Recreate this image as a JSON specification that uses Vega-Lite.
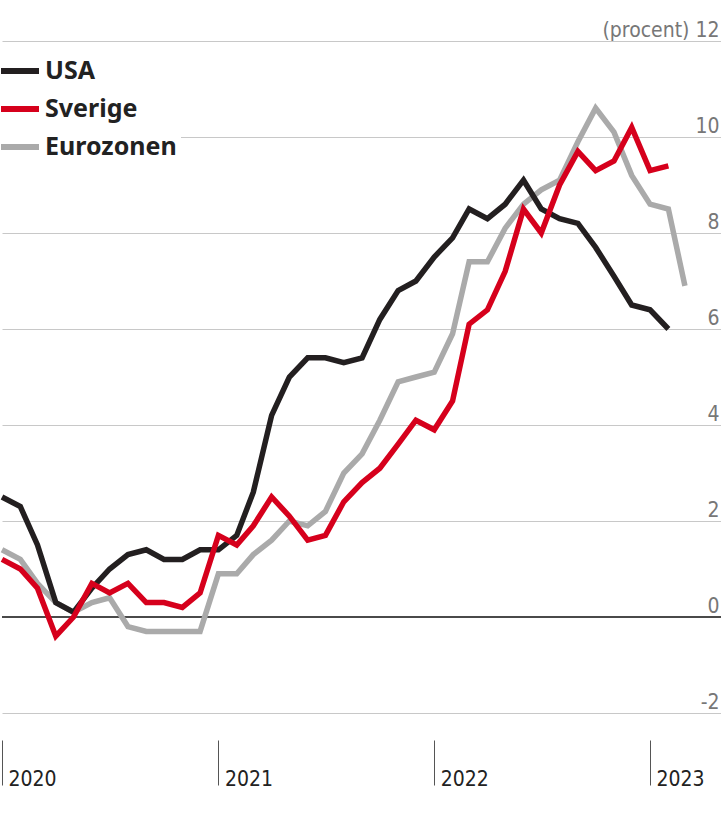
{
  "$schema": "https://vega.github.io/schema/vega-lite/v6.json",
  "width": 719,
  "height": 672,
  "autosize": {"type": "none"},
  "padding": {"left": 2, "top": 41, "right": 0, "bottom": 104},
  "background": "white",
  "config": {
    "view": {"stroke": null},
    "font": "DejaVu Sans Condensed, Liberation Sans, sans-serif"
  },
  "data": {
    "values": [
      {"country": "Eurozonen", "date": "2020-01-01", "value": 1.4},
      {"country": "Eurozonen", "date": "2020-02-01", "value": 1.2},
      {"country": "Eurozonen", "date": "2020-03-01", "value": 0.7},
      {"country": "Eurozonen", "date": "2020-04-01", "value": 0.3},
      {"country": "Eurozonen", "date": "2020-05-01", "value": 0.1},
      {"country": "Eurozonen", "date": "2020-06-01", "value": 0.3},
      {"country": "Eurozonen", "date": "2020-07-01", "value": 0.4},
      {"country": "Eurozonen", "date": "2020-08-01", "value": -0.2},
      {"country": "Eurozonen", "date": "2020-09-01", "value": -0.3},
      {"country": "Eurozonen", "date": "2020-10-01", "value": -0.3},
      {"country": "Eurozonen", "date": "2020-11-01", "value": -0.3},
      {"country": "Eurozonen", "date": "2020-12-01", "value": -0.3},
      {"country": "Eurozonen", "date": "2021-01-01", "value": 0.9},
      {"country": "Eurozonen", "date": "2021-02-01", "value": 0.9},
      {"country": "Eurozonen", "date": "2021-03-01", "value": 1.3},
      {"country": "Eurozonen", "date": "2021-04-01", "value": 1.6},
      {"country": "Eurozonen", "date": "2021-05-01", "value": 2.0},
      {"country": "Eurozonen", "date": "2021-06-01", "value": 1.9},
      {"country": "Eurozonen", "date": "2021-07-01", "value": 2.2},
      {"country": "Eurozonen", "date": "2021-08-01", "value": 3.0},
      {"country": "Eurozonen", "date": "2021-09-01", "value": 3.4},
      {"country": "Eurozonen", "date": "2021-10-01", "value": 4.1},
      {"country": "Eurozonen", "date": "2021-11-01", "value": 4.9},
      {"country": "Eurozonen", "date": "2021-12-01", "value": 5.0},
      {"country": "Eurozonen", "date": "2022-01-01", "value": 5.1},
      {"country": "Eurozonen", "date": "2022-02-01", "value": 5.9},
      {"country": "Eurozonen", "date": "2022-03-01", "value": 7.4},
      {"country": "Eurozonen", "date": "2022-04-01", "value": 7.4},
      {"country": "Eurozonen", "date": "2022-05-01", "value": 8.1},
      {"country": "Eurozonen", "date": "2022-06-01", "value": 8.6},
      {"country": "Eurozonen", "date": "2022-07-01", "value": 8.9},
      {"country": "Eurozonen", "date": "2022-08-01", "value": 9.1},
      {"country": "Eurozonen", "date": "2022-09-01", "value": 9.9},
      {"country": "Eurozonen", "date": "2022-10-01", "value": 10.6},
      {"country": "Eurozonen", "date": "2022-11-01", "value": 10.1},
      {"country": "Eurozonen", "date": "2022-12-01", "value": 9.2},
      {"country": "Eurozonen", "date": "2023-01-01", "value": 8.6},
      {"country": "Eurozonen", "date": "2023-02-01", "value": 8.5},
      {"country": "Eurozonen", "date": "2023-03-01", "value": 6.9},
      {"country": "USA", "date": "2020-01-01", "value": 2.5},
      {"country": "USA", "date": "2020-02-01", "value": 2.3},
      {"country": "USA", "date": "2020-03-01", "value": 1.5},
      {"country": "USA", "date": "2020-04-01", "value": 0.3},
      {"country": "USA", "date": "2020-05-01", "value": 0.1},
      {"country": "USA", "date": "2020-06-01", "value": 0.6},
      {"country": "USA", "date": "2020-07-01", "value": 1.0},
      {"country": "USA", "date": "2020-08-01", "value": 1.3},
      {"country": "USA", "date": "2020-09-01", "value": 1.4},
      {"country": "USA", "date": "2020-10-01", "value": 1.2},
      {"country": "USA", "date": "2020-11-01", "value": 1.2},
      {"country": "USA", "date": "2020-12-01", "value": 1.4},
      {"country": "USA", "date": "2021-01-01", "value": 1.4},
      {"country": "USA", "date": "2021-02-01", "value": 1.7},
      {"country": "USA", "date": "2021-03-01", "value": 2.6},
      {"country": "USA", "date": "2021-04-01", "value": 4.2},
      {"country": "USA", "date": "2021-05-01", "value": 5.0},
      {"country": "USA", "date": "2021-06-01", "value": 5.4},
      {"country": "USA", "date": "2021-07-01", "value": 5.4},
      {"country": "USA", "date": "2021-08-01", "value": 5.3},
      {"country": "USA", "date": "2021-09-01", "value": 5.4},
      {"country": "USA", "date": "2021-10-01", "value": 6.2},
      {"country": "USA", "date": "2021-11-01", "value": 6.8},
      {"country": "USA", "date": "2021-12-01", "value": 7.0},
      {"country": "USA", "date": "2022-01-01", "value": 7.5},
      {"country": "USA", "date": "2022-02-01", "value": 7.9},
      {"country": "USA", "date": "2022-03-01", "value": 8.5},
      {"country": "USA", "date": "2022-04-01", "value": 8.3},
      {"country": "USA", "date": "2022-05-01", "value": 8.6},
      {"country": "USA", "date": "2022-06-01", "value": 9.1},
      {"country": "USA", "date": "2022-07-01", "value": 8.5},
      {"country": "USA", "date": "2022-08-01", "value": 8.3},
      {"country": "USA", "date": "2022-09-01", "value": 8.2},
      {"country": "USA", "date": "2022-10-01", "value": 7.7},
      {"country": "USA", "date": "2022-11-01", "value": 7.1},
      {"country": "USA", "date": "2022-12-01", "value": 6.5},
      {"country": "USA", "date": "2023-01-01", "value": 6.4},
      {"country": "USA", "date": "2023-02-01", "value": 6.0},
      {"country": "Sverige", "date": "2020-01-01", "value": 1.2},
      {"country": "Sverige", "date": "2020-02-01", "value": 1.0},
      {"country": "Sverige", "date": "2020-03-01", "value": 0.6},
      {"country": "Sverige", "date": "2020-04-01", "value": -0.4},
      {"country": "Sverige", "date": "2020-05-01", "value": 0.0},
      {"country": "Sverige", "date": "2020-06-01", "value": 0.7},
      {"country": "Sverige", "date": "2020-07-01", "value": 0.5},
      {"country": "Sverige", "date": "2020-08-01", "value": 0.7},
      {"country": "Sverige", "date": "2020-09-01", "value": 0.3},
      {"country": "Sverige", "date": "2020-10-01", "value": 0.3},
      {"country": "Sverige", "date": "2020-11-01", "value": 0.2},
      {"country": "Sverige", "date": "2020-12-01", "value": 0.5},
      {"country": "Sverige", "date": "2021-01-01", "value": 1.7},
      {"country": "Sverige", "date": "2021-02-01", "value": 1.5},
      {"country": "Sverige", "date": "2021-03-01", "value": 1.9},
      {"country": "Sverige", "date": "2021-04-01", "value": 2.5},
      {"country": "Sverige", "date": "2021-05-01", "value": 2.1},
      {"country": "Sverige", "date": "2021-06-01", "value": 1.6},
      {"country": "Sverige", "date": "2021-07-01", "value": 1.7},
      {"country": "Sverige", "date": "2021-08-01", "value": 2.4},
      {"country": "Sverige", "date": "2021-09-01", "value": 2.8},
      {"country": "Sverige", "date": "2021-10-01", "value": 3.1},
      {"country": "Sverige", "date": "2021-11-01", "value": 3.6},
      {"country": "Sverige", "date": "2021-12-01", "value": 4.1},
      {"country": "Sverige", "date": "2022-01-01", "value": 3.9},
      {"country": "Sverige", "date": "2022-02-01", "value": 4.5},
      {"country": "Sverige", "date": "2022-03-01", "value": 6.1},
      {"country": "Sverige", "date": "2022-04-01", "value": 6.4},
      {"country": "Sverige", "date": "2022-05-01", "value": 7.2},
      {"country": "Sverige", "date": "2022-06-01", "value": 8.5},
      {"country": "Sverige", "date": "2022-07-01", "value": 8.0},
      {"country": "Sverige", "date": "2022-08-01", "value": 9.0},
      {"country": "Sverige", "date": "2022-09-01", "value": 9.7},
      {"country": "Sverige", "date": "2022-10-01", "value": 9.3},
      {"country": "Sverige", "date": "2022-11-01", "value": 9.5},
      {"country": "Sverige", "date": "2022-12-01", "value": 10.2},
      {"country": "Sverige", "date": "2023-01-01", "value": 9.3},
      {"country": "Sverige", "date": "2023-02-01", "value": 9.4}
    ]
  },
  "layer": [
    {
      "mark": {"type": "rule", "color": "#4a4a4a", "strokeWidth": 1},
      "encoding": {"y": {"datum": 0}}
    },
    {
      "mark": {"type": "line", "strokeWidth": 5.5, "strokeJoin": "miter", "strokeCap": "butt"},
      "encoding": {
        "x": {
          "field": "date",
          "type": "temporal",
          "scale": {
            "type": "utc",
            "domain": [
              {"year": 2020, "month": 1, "date": 1, "utc": true},
              {"year": 2023, "month": 5, "date": 1, "utc": true}
            ]
          },
          "axis": {
            "title": null,
            "format": "%Y",
            "formatType": "utc",
            "tickCount": {"interval": "year", "step": 1},
            "domain": false,
            "grid": false,
            "offset": 27,
            "tickSize": 45,
            "tickColor": "#555555",
            "tickWidth": 1,
            "labelAlign": "left",
            "labelBaseline": "alphabetic",
            "labelPadding": 0,
            "labelOffset": 6,
            "labelFlush": false,
            "labelFontSize": 21,
            "labelColor": "#222222"
          }
        },
        "y": {
          "field": "value",
          "type": "quantitative",
          "scale": {"domain": [-2, 12], "nice": false, "zero": false},
          "axis": {
            "orient": "right",
            "title": null,
            "values": [-2, 0, 2, 4, 6, 8, 10, 12],
            "domain": false,
            "ticks": false,
            "tickSize": 0,
            "grid": true,
            "gridColor": "#c8c8c8",
            "gridWidth": 1,
            "labelAlign": "right",
            "labelBaseline": "alphabetic",
            "labelPadding": -2,
            "labelOffset": -5,
            "labelFontSize": 21,
            "labelColor": "#777777",
            "labelExpr": "datum.value == 12 ? '(procent) 12' : '' + datum.value"
          }
        },
        "color": {
          "field": "country",
          "type": "nominal",
          "scale": {
            "domain": ["USA", "Sverige", "Eurozonen"],
            "range": ["#231f20", "#d6001c", "#aaaaaa"]
          },
          "legend": {
            "title": null,
            "orient": "none",
            "legendX": -8,
            "legendY": 4,
            "padding": 4,
            "fillColor": "white",
            "symbolType": "stroke",
            "symbolSize": 1444,
            "symbolStrokeWidth": 6,
            "rowPadding": 3,
            "labelOffset": 3,
            "labelFont": "Noto Sans",
            "labelFontWeight": "bold",
            "labelFontSize": 25,
            "labelColor": "#222222"
          }
        }
      }
    }
  ]
}
